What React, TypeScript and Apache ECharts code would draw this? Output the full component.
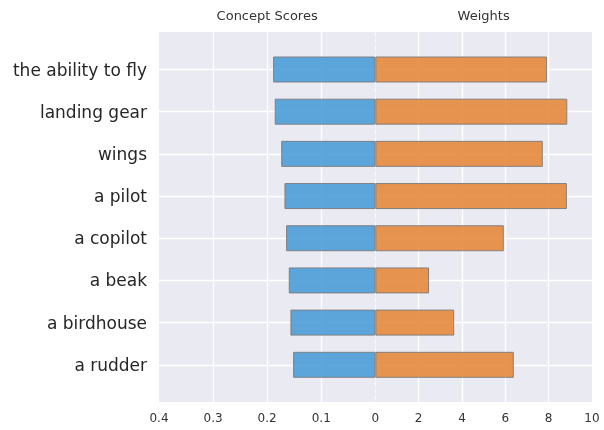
import React, { useEffect, useRef } from "react";
import * as echarts from "echarts";

const categories = [
  "the ability to fly",
  "landing gear",
  "wings",
  "a pilot",
  "a copilot",
  "a beak",
  "a birdhouse",
  "a rudder",
];
const conceptScores = [0.189, 0.186, 0.174, 0.168, 0.165, 0.16, 0.157, 0.152];
const weights = [7.92, 8.86, 7.73, 8.84, 5.93, 2.48, 3.64, 6.39];
const panelTitles = ["Concept Scores", "Weights"];

const FONT = "DejaVu Sans";
const TEXT = "#262626";
const SMALL_TEXT = "#333333";
const BG = "#eaeaf2";
const GRID_LINE = { color: "#ffffff", width: 1.3 };

export default function App() {
  const ref = useRef<HTMLDivElement>(null);

  useEffect(() => {
    if (!ref.current) return;
    const chart = echarts.init(ref.current, null, { renderer: "svg" });
    const plotTop = 32;
    const plotH = 370;
    const barTop = 69.5;
    const barH = 295.3;
    const leftX = 159;
    const midX = 375.3;
    const rightX = 592;

    const barItem = (color: string) => ({
      color,
      opacity: 0.9,
      borderColor: "#7a7a7a",
      borderWidth: 1,
    });

    chart.setOption({
      animation: false,
      textStyle: { fontFamily: FONT },
      grid: [
        { left: leftX, top: plotTop, width: midX - leftX, height: plotH, show: true, backgroundColor: BG, borderWidth: 0 },
        { left: midX, top: plotTop, width: rightX - midX, height: plotH, show: true, backgroundColor: BG, borderWidth: 0 },
        { left: leftX, top: barTop, width: midX - leftX, height: barH },
        { left: midX, top: barTop, width: rightX - midX, height: barH },
      ],
      xAxis: [
        {
          gridIndex: 0, type: "value", min: 0, max: 0.4, interval: 0.1, inverse: true,
          axisLine: { show: false }, axisTick: { show: false },
          axisLabel: { color: SMALL_TEXT, fontSize: 12, fontFamily: FONT, margin: 10, showMinLabel: false },
          splitLine: { show: true, showMinLine: false, showMaxLine: false, lineStyle: GRID_LINE },
        },
        {
          gridIndex: 1, type: "value", min: 0, max: 10, interval: 2,
          axisLine: { show: false }, axisTick: { show: false },
          axisLabel: { color: SMALL_TEXT, fontSize: 12, fontFamily: FONT, margin: 10 },
          splitLine: { show: true, showMinLine: false, showMaxLine: false, lineStyle: GRID_LINE },
        },
        { gridIndex: 2, type: "value", min: 0, max: 0.4, inverse: true, show: false },
        { gridIndex: 3, type: "value", min: 0, max: 10, show: false },
      ],
      yAxis: [
        { gridIndex: 0, type: "value", show: false },
        { gridIndex: 1, type: "value", show: false },
        {
          gridIndex: 2, type: "category", data: categories, inverse: true, boundaryGap: false,
          axisLine: { show: false }, axisTick: { show: false },
          axisLabel: { color: TEXT, fontSize: 17, fontFamily: FONT, margin: 12 },
          splitLine: { show: true, lineStyle: GRID_LINE },
        },
        {
          gridIndex: 3, type: "category", data: categories, inverse: true, boundaryGap: false,
          axisLine: { show: false }, axisTick: { show: false }, axisLabel: { show: false },
          splitLine: { show: true, lineStyle: GRID_LINE },
        },
      ],
      graphic: [
        {
          type: "text", x: (leftX + midX) / 2, y: 15,
          style: { text: panelTitles[0], align: "center", verticalAlign: "middle", fontSize: 13, fontFamily: FONT, fill: SMALL_TEXT },
        },
        {
          type: "text", x: (midX + rightX) / 2, y: 15,
          style: { text: panelTitles[1], align: "center", verticalAlign: "middle", fontSize: 13, fontFamily: FONT, fill: SMALL_TEXT },
        },
        {
          type: "line", z: 0,
          shape: { x1: midX, y1: plotTop, x2: midX, y2: plotTop + plotH },
          style: { stroke: "#ffffff", lineWidth: 1.2, lineDash: [4, 3], opacity: 0.6 },
        },
      ],
      series: [
        {
          type: "bar", name: panelTitles[0], xAxisIndex: 2, yAxisIndex: 2,
          data: conceptScores, barWidth: 26, itemStyle: barItem("#4d9dd8"),
        },
        {
          type: "bar", name: panelTitles[1], xAxisIndex: 3, yAxisIndex: 3,
          data: weights, barWidth: 26, itemStyle: barItem("#e4893d"),
        },
      ],
    });
    return () => chart.dispose();
  }, []);

  return (
    <div
      ref={ref}
      style={{ position: "fixed", left: 0, top: 0, width: 604, height: 430 }}
    />
  );
}
